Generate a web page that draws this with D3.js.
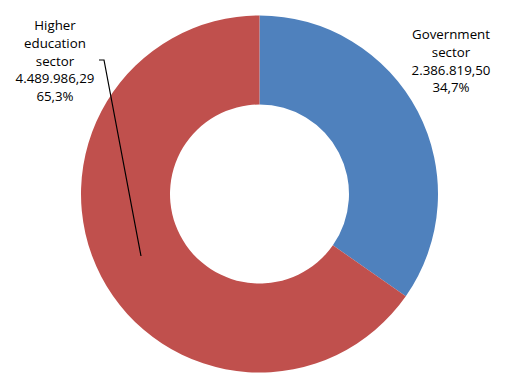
<!DOCTYPE html>
<html>
<head>
<meta charset="utf-8">
<script src="https://cdn.jsdelivr.net/npm/d3@7"></script>
<style>
    body { margin: 0; background: #fff; }
    svg { display: block; }
</style>
</head>
<body>
<div id="chart"></div>
<script>
    const sectors = ['Government sector', 'Higher education sector'];
    const labelLines = [['Government', 'sector'], ['Higher', 'education', 'sector']];
    const values = [2386819.50, 4489986.29];
    const colors = ['#4F81BD', '#C0504D'];

    const width = 518, height = 387;
    const cx = 259.5, cy = 194;
    const outerR = 178.5, innerR = 89.5;

    const locale = d3.formatLocale({decimal: ',', thousands: '.', grouping: [3], currency: ['', '']});
    const fmtVal = locale.format(',.2f');
    const fmtPct = locale.format('.1%');
    const total = d3.sum(values);

    const svg = d3.select('#chart').append('svg')
        .attr('width', width)
        .attr('height', height);

    const pie = d3.pie().sort(null).value(function (d) { return d; });
    const arc = d3.arc().innerRadius(innerR).outerRadius(outerR);
    const arcs = pie(values);

    const g = svg.append('g').attr('transform', `translate(${cx},${cy})`);

    g.selectAll('path')
        .data(arcs)
        .enter()
        .append('path')
        .attr('d', arc)
        .attr('fill', function (d, i) { return colors[i]; })
        .append('title')
        .text(function (d, i) { return sectors[i]; });

    // label positions (centre of text block, first baseline)
    const labelPos = [{x: 451, y: 39}, {x: 55, y: 30}];
    const lineH = 17.8;

    // leader line for the higher education label
    const leaderStart = [99, 60];
    svg.append('path')
        .attr('d', d3.line()([
            leaderStart,
            [leaderStart[0] + 5, leaderStart[1]],
            [141, 256]
        ]))
        .attr('fill', 'none')
        .attr('stroke', '#000')
        .attr('stroke-width', 1.2);

    arcs.forEach(function (a, i) {
        const lines = labelLines[i].concat([fmtVal(values[i]), fmtPct(values[i] / total)]);
        svg.append('text')
            .attr('x', labelPos[i].x)
            .attr('y', labelPos[i].y)
            .attr('text-anchor', 'middle')
            .style('font', '13.3px "Open Sans", sans-serif')
            .style('fill', '#000')
            .selectAll('tspan')
            .data(lines)
            .enter()
            .append('tspan')
            .attr('x', labelPos[i].x)
            .attr('dy', function (d, j) { return j === 0 ? 0 : lineH; })
            .text(function (d) { return d; });
    });
</script>
</body>
</html>
